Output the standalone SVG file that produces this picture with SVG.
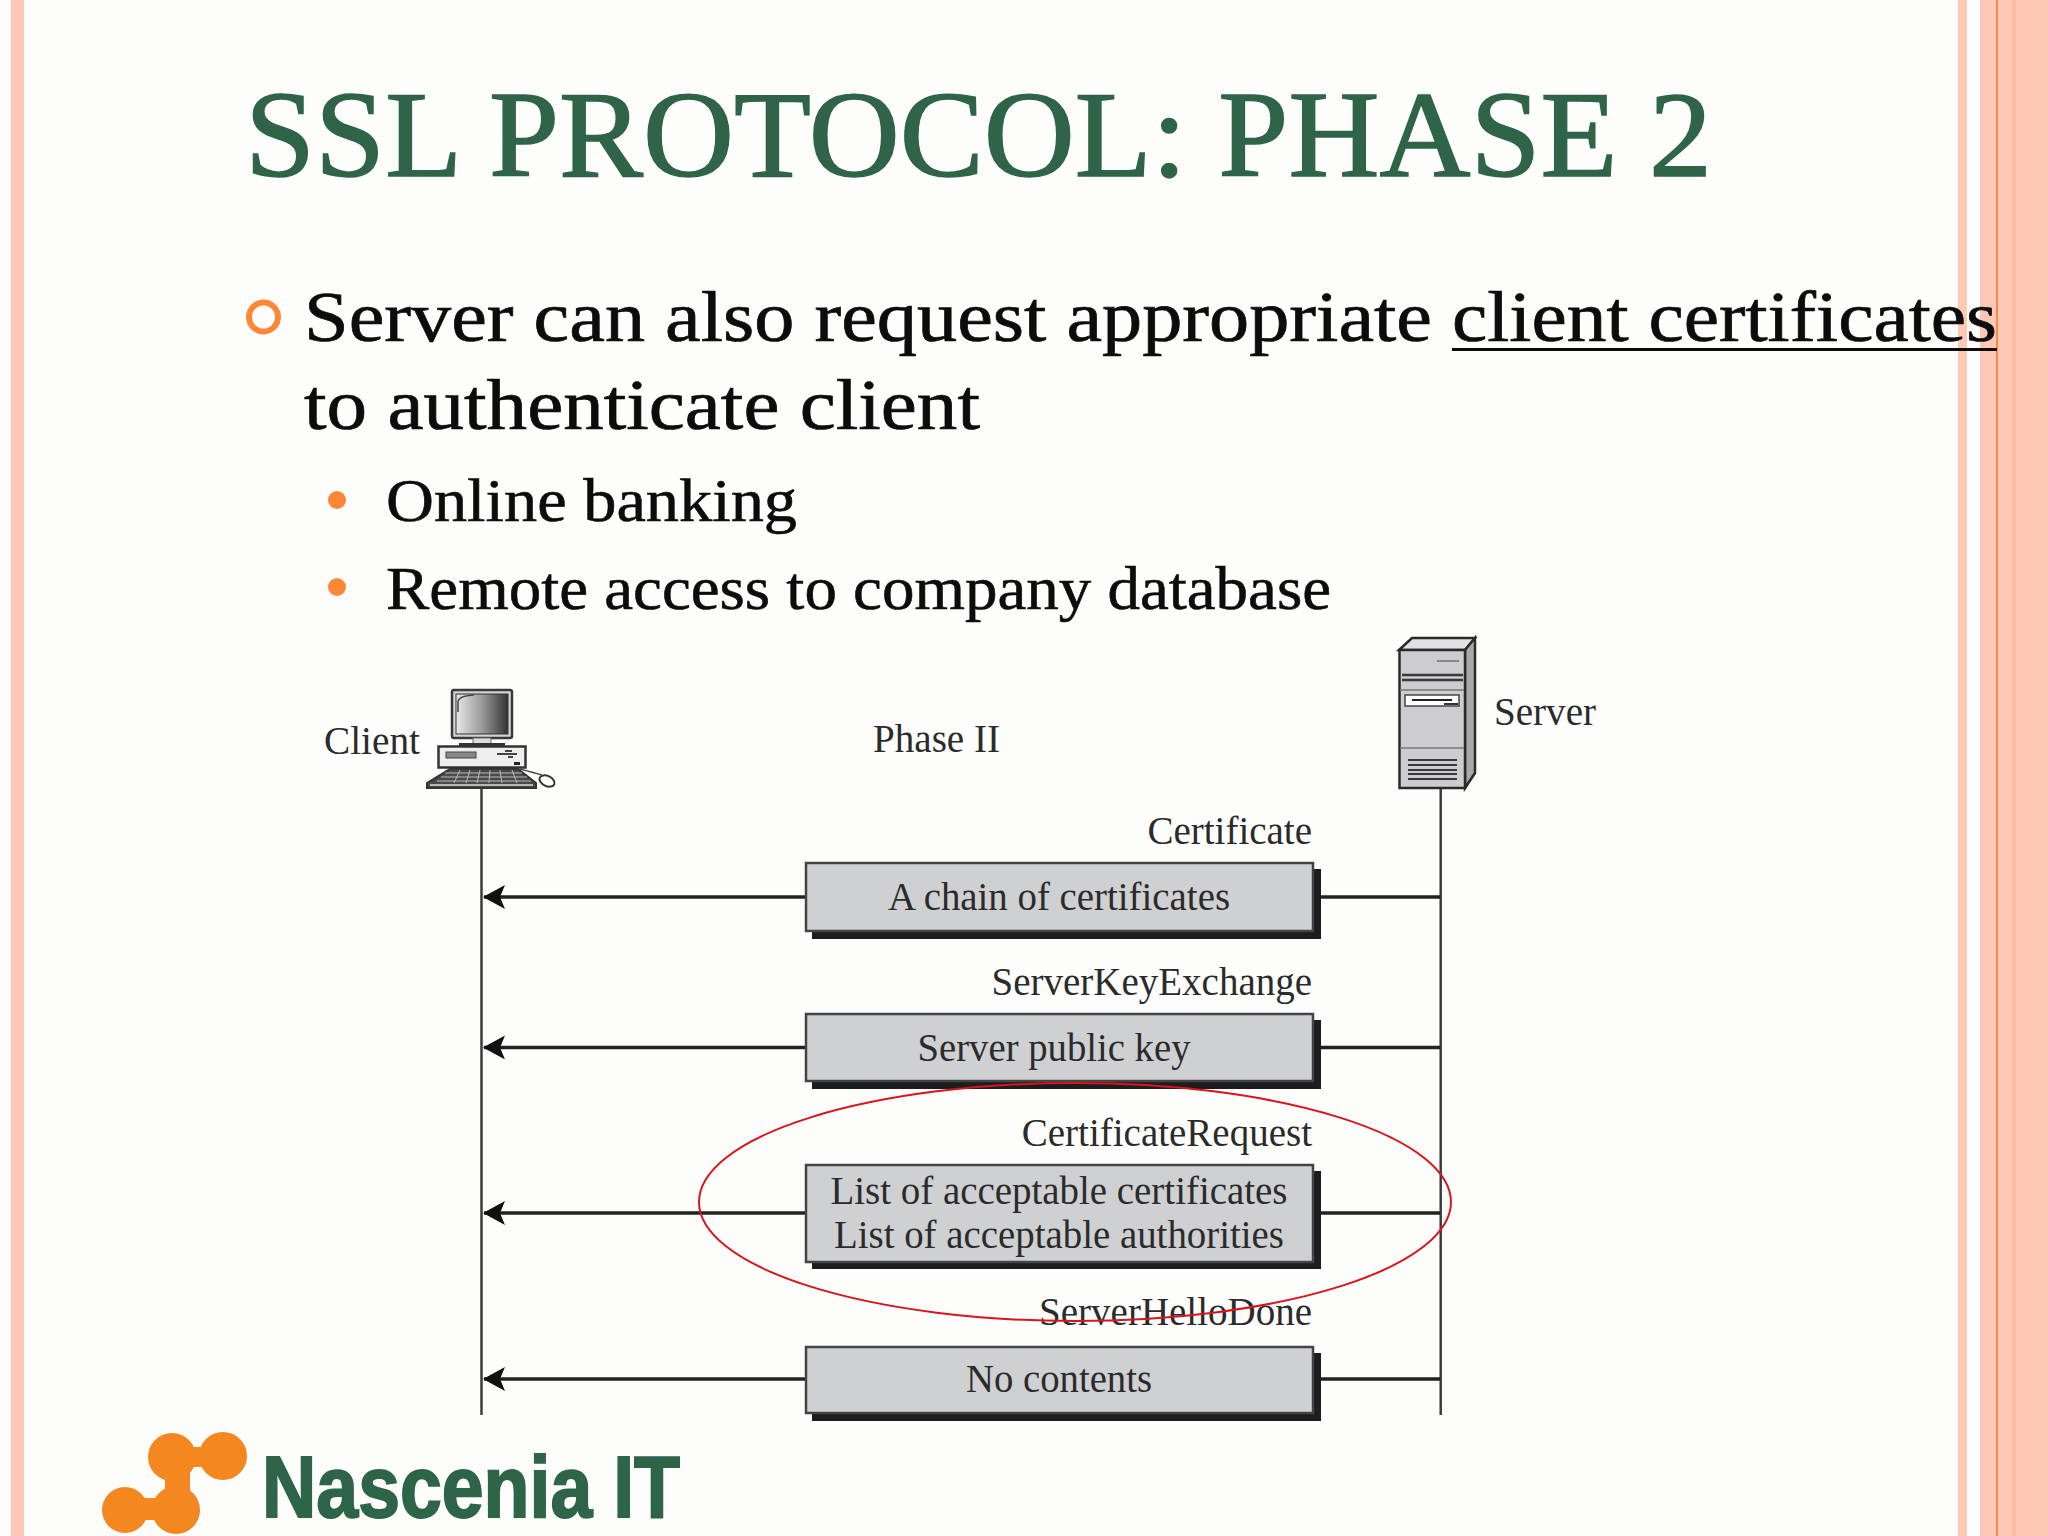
<svg xmlns="http://www.w3.org/2000/svg" width="2048" height="1536" viewBox="0 0 2048 1536">
<style>
.title{font:122px "Liberation Serif",serif;fill:#2f6448;stroke:#2f6448;stroke-width:1.5}
.b1{font:71px "Liberation Serif",serif;fill:#0c0c0c;stroke:#0c0c0c;stroke-width:.7}
.b2{font:62px "Liberation Serif",serif;fill:#0c0c0c;stroke:#0c0c0c;stroke-width:.6}
.d{font:39px "Liberation Serif",serif;fill:#2b2b2b}
.e{text-anchor:end}
.m{text-anchor:middle}
.box{fill:#cfd0d2;stroke:#444;stroke-width:2.5}
.sh{fill:#1d1d20}
.life{stroke:#3c3c3c;stroke-width:2.5;fill:none}
.arr{stroke:#222;stroke-width:3.5;fill:none}
.dot{fill:#fd8637}
</style>
<defs>
<linearGradient id="scr" x1="0" x2="1" y1="0" y2="0"><stop offset="0" stop-color="#e8e8e8"/><stop offset="0.5" stop-color="#9a9a9a"/><stop offset="1" stop-color="#333"/></linearGradient>
<marker id="ah" markerUnits="userSpaceOnUse" markerWidth="26" markerHeight="26" refX="21" refY="12" orient="auto"><path d="M22 12L0 0L5 12L0 24Z" fill="#111"/></marker>
</defs>
<rect width="2048" height="1536" fill="#fdfefc"/>
<g id="frame">
<rect x="11" width="13" height="1536" fill="#fdc9b5"/>
<rect x="1958" width="9" height="1536" fill="#fdc9b5"/>
<rect x="1980" width="68" height="1536" fill="#fdc9b5"/>
<rect x="2012" width="4" height="1536" fill="#fcbca4"/>
<rect x="1996" width="2" height="1536" fill="#f58a4b"/>
</g>
<text class="title" x="245" y="176" textLength="1467" lengthAdjust="spacingAndGlyphs">SSL PROTOCOL: PHASE 2</text>
<g id="bullets">
<circle cx="263.500" cy="317" r="14.500" fill="none" stroke="#fd8637" stroke-width="6"/>
<circle class="dot" cx="337" cy="500" r="9"/>
<circle class="dot" cx="337" cy="587" r="9"/>
<text class="b1" x="304" y="341" textLength="1128" lengthAdjust="spacingAndGlyphs">Server can also request appropriate</text>
<text class="b1" x="1452" y="341" textLength="545" lengthAdjust="spacingAndGlyphs">client certificates</text>
<rect x="1452" y="348" width="545" height="3" fill="#0c0c0c"/>
<text class="b1" x="304" y="429" textLength="676" lengthAdjust="spacingAndGlyphs">to authenticate client</text>
<text class="b2" x="386" y="521" textLength="411" lengthAdjust="spacingAndGlyphs">Online banking</text>
<text class="b2" x="386" y="609" textLength="945" lengthAdjust="spacingAndGlyphs">Remote access to company database</text>
</g>
<g id="connectors">
<path class="life" d="M481.500 788V1415"/>
<path class="life" d="M1440.700 788V1415"/>
<path class="arr" d="M1440 897H1320"/><path class="arr" d="M806 897H484" marker-end="url(#ah)"/>
<path class="arr" d="M1440 1047.500H1320"/><path class="arr" d="M806 1047.500H484" marker-end="url(#ah)"/>
<path class="arr" d="M1440 1213H1320"/><path class="arr" d="M806 1213H484" marker-end="url(#ah)"/>
<path class="arr" d="M1440 1379H1320"/><path class="arr" d="M806 1379H484" marker-end="url(#ah)"/>
</g>
<g id="client">
<rect x="452" y="690" width="60" height="48" rx="2" fill="#d5d5d5" stroke="#3a3a3a" stroke-width="2.500"/>
<rect x="456" y="694" width="52" height="40" fill="url(#scr)" stroke="#333"/>
<path d="M458 712V702Q458 696 474 695" stroke="#444" stroke-width="1.500" fill="none"/>
<rect x="473" y="738" width="18" height="6" fill="#ddd" stroke="#666"/>
<rect x="459" y="743" width="46" height="4" fill="#333"/>
<rect x="438.500" y="746.500" width="87" height="21" fill="#eee" stroke="#333" stroke-width="2.500"/>
<rect x="446" y="752" width="30" height="6" fill="#888" stroke="#444"/>
<path d="M497 754H517M505 751H512M508 757H513" stroke="#444" stroke-width="2"/>
<rect x="514" y="762" width="6" height="3" fill="#222"/>
<path d="M450 769H518L536 783V788H427V783Z" fill="#4a4a4a" stroke="#333" stroke-width="2"/>
<path d="M430 785H533" stroke="#ddd" stroke-width="1.500"/>
<path d="M445 773H522M441 777H527M437 781H531M460 770L454 783M470 770L466 783M480 770L477 783M490 770L489 783M500 770L502 783M512 770L517 783" stroke="#bbb" stroke-width="1"/>
<path d="M520 769Q535 773 542 775" stroke="#444" stroke-width="1.500" fill="none"/>
<ellipse cx="547" cy="781" rx="8" ry="5" transform="rotate(25 547 781)" fill="#fff" stroke="#333" stroke-width="2"/>
<text class="d" x="324" y="754" textLength="96" lengthAdjust="spacingAndGlyphs">Client</text>
</g>
<text id="phase" class="d" x="873" y="752" textLength="127" lengthAdjust="spacingAndGlyphs">Phase II</text>
<g id="server">
<path d="M1399 650L1412 638H1475L1465 650Z" fill="#e2e2e2" stroke="#2a2a2a" stroke-width="2.500"/>
<path d="M1465 650L1475 638V773L1465 788Z" fill="#a9a9a9" stroke="#2a2a2a" stroke-width="2.500"/>
<rect x="1399.500" y="650" width="65.500" height="138" fill="#cdcdcf" stroke="#2a2a2a" stroke-width="2.500"/>
<path d="M1437 661H1459" stroke="#888" stroke-width="2"/>
<path d="M1402 675H1463M1402 680H1463" stroke="#3a3a3a" stroke-width="2.500"/>
<path d="M1400 690H1464M1400 748H1464" stroke="#777" stroke-width="1.500"/>
<rect x="1405" y="695" width="54" height="11" fill="#fff" stroke="#444" stroke-width="1.500"/>
<path d="M1412 700H1452" stroke="#222" stroke-width="2"/>
<path d="M1444 704H1458" stroke="#333" stroke-width="2"/>
<path d="M1408 760H1457M1408 765H1457M1408 770H1457M1408 774H1457M1408 779H1457" stroke="#3a3a3a" stroke-width="2"/>
<text class="d" x="1494" y="725" textLength="102" lengthAdjust="spacingAndGlyphs">Server</text>
</g>
<g id="msg-certificate">
<text class="d e" x="1312" y="844">Certificate</text>
<rect class="sh" x="812" y="869" width="509" height="70"/>
<rect class="box" x="806" y="863" width="507" height="68"/>
<text class="d m" x="1059" y="910" textLength="342" lengthAdjust="spacingAndGlyphs">A chain of certificates</text>
</g>
<g id="msg-serverkeyexchange">
<text class="d e" x="1312" y="995">ServerKeyExchange</text>
<rect class="sh" x="812" y="1020" width="509" height="69"/>
<rect class="box" x="806" y="1014" width="507" height="67"/>
<text class="d m" x="1054" y="1061" textLength="273" lengthAdjust="spacingAndGlyphs">Server public key</text>
</g>
<g id="msg-certificaterequest">
<text class="d e" x="1312" y="1146">CertificateRequest</text>
<rect class="sh" x="812" y="1171" width="509" height="98"/>
<rect class="box" x="806" y="1165" width="507" height="97"/>
<text class="d m" x="1059" y="1204" textLength="457" lengthAdjust="spacingAndGlyphs">List of acceptable certificates</text>
<text class="d m" x="1059" y="1248" textLength="450" lengthAdjust="spacingAndGlyphs">List of acceptable authorities</text>
</g>
<g id="msg-serverhellodone">
<text class="d e" x="1312" y="1325">ServerHelloDone</text>
<rect class="sh" x="812" y="1353" width="509" height="68"/>
<rect class="box" x="806" y="1347" width="507" height="66"/>
<text class="d m" x="1059" y="1392" textLength="186" lengthAdjust="spacingAndGlyphs">No contents</text>
</g>
<ellipse id="highlight" cx="1075" cy="1202" rx="376" ry="119" fill="none" stroke="#d8141c" stroke-width="2"/>
<g id="logo">
<g fill="#f58720">
<circle cx="172" cy="1457" r="24"/><circle cx="223" cy="1456" r="24"/><circle cx="125" cy="1510" r="23"/><circle cx="176" cy="1510" r="24"/>
<path d="M165 1470H190V1500H165Z"/><path d="M190 1447H210V1467H190Z"/><path d="M140 1498H165V1520H140Z"/>
</g>
<text x="262" y="1517" textLength="418" lengthAdjust="spacingAndGlyphs" style="font:bold 88px 'Liberation Sans',sans-serif;fill:#2e6447;stroke:#2e6447;stroke-width:2">Nascenia IT</text>
</g>
</svg>
